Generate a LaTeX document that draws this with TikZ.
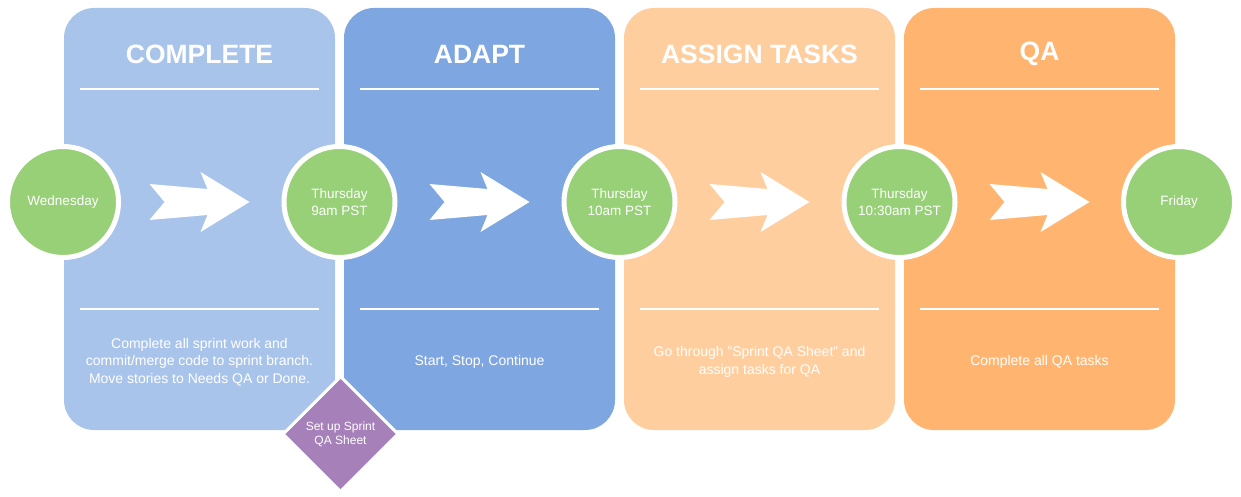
\documentclass[tikz,border=0pt]{standalone}
\usepackage{fontspec}
\setmainfont{Liberation Sans}
\usetikzlibrary{
  calc,
  positioning,
  shapes.geometric,
}
\definecolor{completefill}{HTML}{A9C4EB}
\definecolor{adaptfill}{HTML}{7EA6E0}
\definecolor{assignfill}{HTML}{FFCE9F}
\definecolor{qafill}{HTML}{FFB570}
\definecolor{dayfill}{HTML}{97D077}
\definecolor{sheetfill}{HTML}{A680B8}

\begin{document}
\begin{tikzpicture}[
    x = 1pt,
    y = -1pt,
    node distance=9pt,
    p/.style={
      minimum width=271pt, minimum height=422pt, rounded corners=30pt,
      inner sep=0pt, outer sep=0pt,
    },
    t/.style={text=white, font=\fontsize{26.5}{30}\selectfont\bfseries},
    r/.style={draw=white, line width=1.6pt},
    b/.style={text=white, align=center, font=\fontsize{14}{17.5}\selectfont},
    d/.style={
      circle, fill=dayfill, draw=white, line width=5pt, minimum size=111pt,
      inner sep=0pt, text=white, align=center,
      font=\fontsize{13.5}{17}\selectfont,
    },
    s/.style={
      diamond, fill=sheetfill, draw=white, line width=3pt,
      minimum width=116pt, minimum height=116pt, inner sep=0pt,
      text=white, align=center, font=\fontsize{12}{14}\selectfont,
    },
    go/.pic={
      \fill[white] (-50,-18) -- (8,-13) -- (1,-30) -- (50,0) -- (1,30)
      -- (8,13) -- (-50,18) -- (-35,0) -- cycle;
    },]
  \useasboundingbox (0,0) rectangle (1241,497);
  \coordinate (mid) at (0,202);
  \node[p, fill=completefill](Complete) at (199.5,219) {};
  \node[p, fill=adaptfill, right=of Complete](Adapt) {};
  \node[p, fill=assignfill, right=of Adapt](Assign) {};
  \node[p, fill=qafill, right=of Assign](QA) {};
  %%
  \node[t] (CompleteT) at ($(Complete.north)+(0,46)$) {COMPLETE};
  \node[t] (AdaptT) at ($(Adapt.north)+(0,46)$) {ADAPT};
  \node[t] (AssignT) at ($(Assign.north)+(0,46)$) {ASSIGN TASKS};
  \node[t] (QAT) at ($(QA.north)+(0,46)$) {QA};
  %%
  \draw[r] ($(Complete.north west)+(16,81)$) -- ($(Complete.north east)+(-16,81)$);
  \draw[r] ($(Complete.north west)+(16,301)$) -- ($(Complete.north east)+(-16,301)$);
  \draw[r] ($(Adapt.north west)+(16,81)$) -- ($(Adapt.north east)+(-16,81)$);
  \draw[r] ($(Adapt.north west)+(16,301)$) -- ($(Adapt.north east)+(-16,301)$);
  \draw[r] ($(Assign.north west)+(16,81)$) -- ($(Assign.north east)+(-16,81)$);
  \draw[r] ($(Assign.north west)+(16,301)$) -- ($(Assign.north east)+(-16,301)$);
  \draw[r] ($(QA.north west)+(16,81)$) -- ($(QA.north east)+(-16,81)$);
  \draw[r] ($(QA.north west)+(16,301)$) -- ($(QA.north east)+(-16,301)$);
  %%
  \pic at (Complete.center |- mid) {go};
  \pic at (Adapt.center |- mid) {go};
  \pic at (Assign.center |- mid) {go};
  \pic at (QA.center |- mid) {go};
  %%
  \node[b] (CompleteB) at ($(Complete.north)+(0,354)$)
  {Complete all sprint work and\\commit/merge code to sprint branch.\\
    Move stories to Needs QA or Done.};
  \node[b] (AdaptB) at ($(Adapt.north)+(0,354)$) {Start, Stop, Continue};
  \node[b] (AssignB) at ($(Assign.north)+(0,354)$)
  {Go through "Sprint QA Sheet" and\\assign tasks for QA};
  \node[b] (QAB) at ($(QA.north)+(0,354)$) {Complete all QA tasks};
  %%
  \node[d] (Wed) at ($(Complete.west |- mid)+(-1,0)$) {Wednesday};
  \node[d] (Thu9) at ($(Complete.east |- mid)+(4.5,0)$) {Thursday\\9am PST};
  \node[d] (Thu10) at ($(Adapt.east |- mid)+(4.5,0)$) {Thursday\\10am PST};
  \node[d] (Thu1030) at ($(Assign.east |- mid)+(4.5,0)$) {Thursday\\10:30am PST};
  \node[d] (Fri) at ($(QA.east |- mid)+(4,0)$) {Friday};
  %%
  \node[s] (Sheet) at ($(Complete.south east)!.5!(Adapt.south west)+(1,4)$)
  {Set up Sprint\\QA Sheet};
\end{tikzpicture}
\end{document}
